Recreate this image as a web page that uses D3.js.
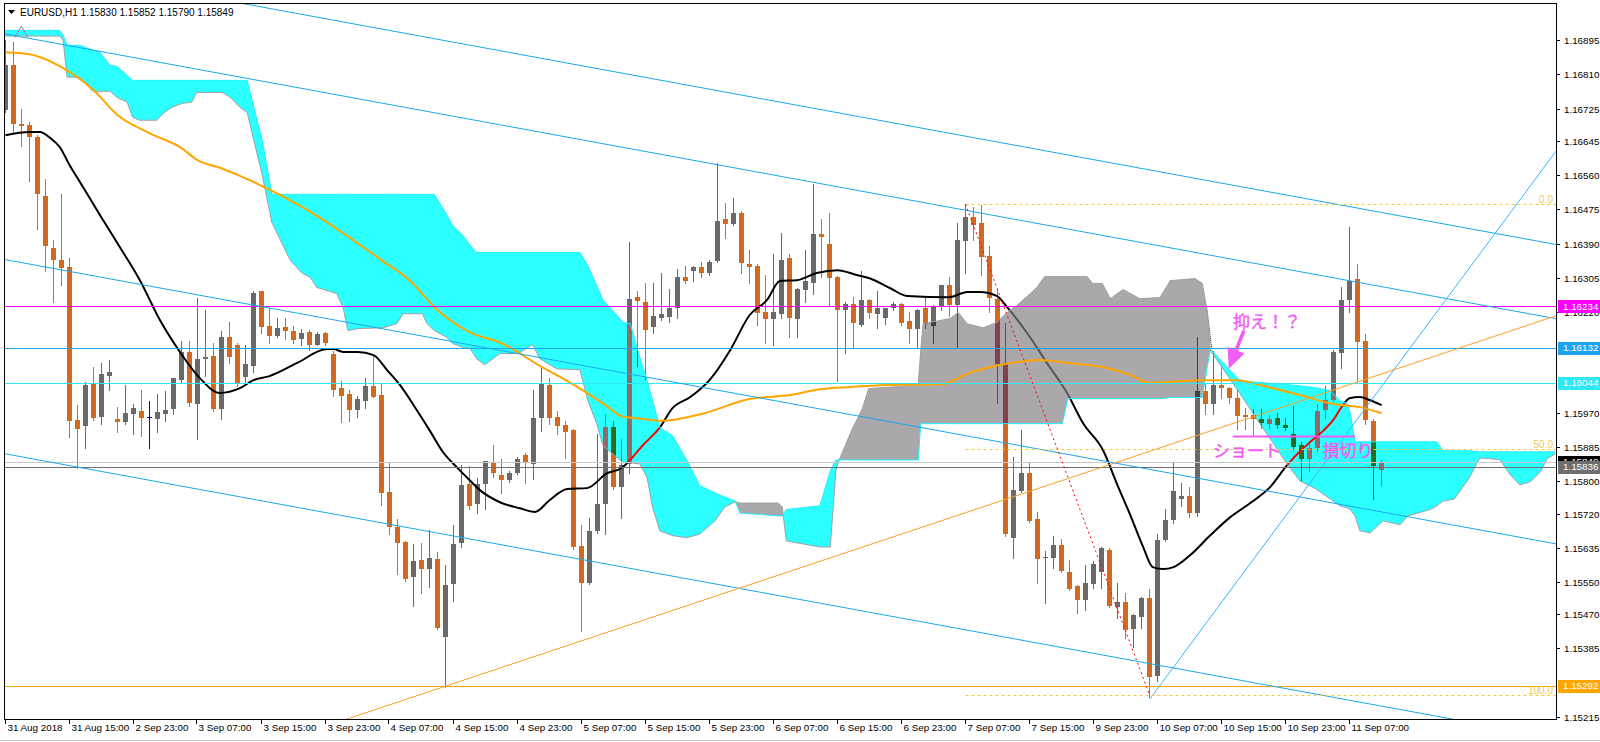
<!DOCTYPE html>
<html><head><meta charset="utf-8">
<script src="https://cdn.jsdelivr.net/npm/d3@7"></script>
<style>body{margin:0;background:#fff}svg{display:block}</style>
</head><body>
<svg id="c" width="1600" height="742"></svg>
<script>
// ---------------- DATA ----------------
const headerText = "EURUSD,H1  1.15830 1.15852 1.15790 1.15849";
const xLabels = ["31 Aug 2018","31 Aug 15:00","2 Sep 23:00","3 Sep 07:00","3 Sep 15:00","3 Sep 23:00","4 Sep 07:00","4 Sep 15:00","4 Sep 23:00","5 Sep 07:00","5 Sep 15:00","5 Sep 23:00","6 Sep 07:00","6 Sep 15:00","6 Sep 23:00","7 Sep 07:00","7 Sep 15:00","9 Sep 23:00","10 Sep 07:00","10 Sep 15:00","10 Sep 23:00","11 Sep 07:00"];
const xLabelBars = [0,8,16,24,32,40,48,56,64,72,80,88,96,104,112,120,128,136,144,152,160,168];
const priceTicks = [1.16895,1.16810,1.16725,1.16645,1.16560,1.16475,1.16390,1.16305,1.16220,1.15970,1.15885,1.15800,1.15720,1.15635,1.15550,1.15470,1.15385,1.15215];

const open = [
1.16721,1.16832,1.16686,1.16683,1.16654,1.16509,1.16378,1.16350,1.16331,1.15953,
1.15938,1.16042,1.15958,1.16062,1.15955,1.15948,1.15968,1.15975,1.15960,1.15955,
1.15968,1.15980,1.16052,1.16122,1.15993,1.16104,1.16112,1.15978,1.16157,1.16139,
1.16060,1.16087,1.16271,1.16186,1.16162,1.16184,1.16174,1.16154,1.16171,1.16139,
1.16169,1.16117,1.16032,1.16017,1.15978,1.16000,1.16037,1.16015,1.15774,1.15687,
1.15650,1.15563,1.15605,1.15583,1.15607,1.15414,1.15545,1.15647,1.15794,1.15744,
1.15794,1.15848,1.15816,1.15804,1.15821,1.15866,1.15843,1.15958,1.16040,1.15960,
1.15940,1.15928,1.15640,1.15548,1.15677,1.15744,1.15935,1.15786,1.15843,1.16258,
1.16246,1.16181,1.16204,1.16209,1.16231,1.16308,1.16321,1.16331,1.16318,1.16348,
1.16450,1.16437,1.16465,1.16340,1.16335,1.16221,1.16204,1.16216,1.16353,1.16204,
1.16276,1.16291,1.16413,1.16390,1.16308,1.16226,1.16241,1.16189,1.16251,1.16216,
1.16204,1.16231,1.16241,1.16199,1.16179,1.16229,1.16186,1.16231,1.16288,1.16236,
1.16395,1.16455,1.16440,1.16358,1.16253,1.16094,1.15660,1.15776,1.15821,1.15707,
1.15610,1.15610,1.15642,1.15575,1.15540,1.15505,1.15545,1.15575,1.15630,1.15488,
1.15501,1.15433,1.15463,1.15511,1.15317,1.15655,1.15704,1.15756,1.15764,1.15722,
1.16025,1.15993,1.16040,1.16032,1.16007,1.15965,1.15965,1.15955,1.15943,1.15958,
1.15940,1.15918,1.15891,1.15856,1.15883,1.15978,1.16002,1.16119,1.16251,1.16301,
1.16147,1.15950,1.15830];
const high = [
1.16895,1.16890,1.16723,1.16691,1.16659,1.16549,1.16398,1.16512,1.16355,1.15990,
1.16047,1.16084,1.16094,1.16102,1.15985,1.16040,1.15993,1.16027,1.15998,1.16017,
1.16025,1.16057,1.16149,1.16149,1.16256,1.16224,1.16142,1.16174,1.16196,1.16142,
1.16139,1.16273,1.16273,1.16229,1.16206,1.16206,1.16186,1.16179,1.16176,1.16171,
1.16171,1.16124,1.16050,1.16027,1.16012,1.16057,1.16112,1.16042,1.15846,1.15707,
1.15652,1.15645,1.15647,1.15679,1.15625,1.15592,1.15692,1.15841,1.15838,1.15809,
1.15851,1.15891,1.15856,1.15826,1.15861,1.15871,1.16027,1.16080,1.16057,1.15975,
1.15950,1.15930,1.15692,1.15709,1.15918,1.15968,1.15950,1.15906,1.16395,1.16271,
1.16291,1.16293,1.16316,1.16276,1.16326,1.16335,1.16335,1.16343,1.16348,1.16589,
1.16490,1.16504,1.16470,1.16373,1.16340,1.16311,1.16363,1.16417,1.16365,1.16280,
1.16375,1.16539,1.16450,1.16465,1.16310,1.16244,1.16258,1.16323,1.16253,1.16273,
1.16231,1.16244,1.16243,1.16219,1.16228,1.16258,1.16238,1.16288,1.16306,1.16440,
1.16488,1.16480,1.16486,1.16383,1.16278,1.16194,1.15861,1.15928,1.15848,1.15724,
1.15627,1.15665,1.15657,1.15605,1.15543,1.15592,1.15602,1.15638,1.15635,1.15548,
1.15523,1.15470,1.15513,1.15533,1.15669,1.15732,1.15846,1.15796,1.15786,1.16157,
1.16042,1.16124,1.16087,1.16035,1.16030,1.15983,1.15980,1.15980,1.15965,1.15970,
1.15958,1.15988,1.15898,1.15893,1.15993,1.16037,1.16125,1.16283,1.16432,1.16338,
1.16166,1.15955,1.15852];
const low = [
1.16716,1.16661,1.16631,1.16544,1.16425,1.16321,1.16244,1.16288,1.15911,1.15834,
1.15883,1.15953,1.15943,1.16027,1.15923,1.15943,1.15918,1.15913,1.15883,1.15923,
1.15950,1.15968,1.16045,1.15988,1.15906,1.16062,1.15975,1.15955,1.16094,1.16037,
1.16042,1.16072,1.16169,1.16142,1.16157,1.16154,1.16142,1.16139,1.16127,1.16137,
1.16137,1.16012,1.15948,1.15950,1.15960,1.15983,1.16008,1.15742,1.15669,1.15570,
1.15553,1.15491,1.15523,1.15538,1.15433,1.15289,1.15503,1.15637,1.15732,1.15722,
1.15732,1.15811,1.15771,1.15799,1.15819,1.15796,1.15806,1.15925,1.15943,1.15918,
1.15858,1.15632,1.15428,1.15545,1.15672,1.15669,1.15781,1.15709,1.15821,1.16087,
1.16055,1.16169,1.16201,1.16196,1.16206,1.16291,1.16296,1.16308,1.16311,1.16345,
1.16403,1.16435,1.16316,1.16293,1.16189,1.16142,1.16137,1.16206,1.16157,1.16157,
1.16244,1.16266,1.16306,1.16236,1.16050,1.16119,1.16134,1.16186,1.16206,1.16181,
1.16191,1.16226,1.16189,1.16142,1.16134,1.16181,1.16144,1.16226,1.16211,1.16134,
1.16318,1.16398,1.16313,1.16219,1.15995,1.15665,1.15610,1.15774,1.15700,1.15548,
1.15498,1.15585,1.15576,1.15530,1.15473,1.15481,1.15535,1.15535,1.15488,1.15461,
1.15411,1.15389,1.15436,1.15265,1.15304,1.15653,1.15697,1.15739,1.15712,1.15714,
1.15968,1.15968,1.16007,1.15995,1.15930,1.15930,1.15916,1.15933,1.15933,1.15933,
1.15928,1.15881,1.15801,1.15826,1.15876,1.15958,1.16000,1.16080,1.16219,1.16050,
1.15943,1.15756,1.15790];
const close = [
1.16832,1.16686,1.16681,1.16654,1.16512,1.16385,1.16348,1.16331,1.15948,1.15930,
1.16040,1.15958,1.16065,1.16072,1.15948,1.15970,1.15983,1.15958,1.15960,1.15973,
1.15978,1.16057,1.16122,1.15995,1.16104,1.16109,1.15980,1.16157,1.16107,1.16045,
1.16092,1.16268,1.16181,1.16162,1.16181,1.16174,1.16152,1.16169,1.16139,1.16166,
1.16144,1.16027,1.16012,1.15978,1.16005,1.16037,1.16010,1.15771,1.15687,1.15647,
1.15558,1.15602,1.15583,1.15610,1.15436,1.15543,1.15645,1.15791,1.15739,1.15794,
1.15851,1.15821,1.15804,1.15821,1.15856,1.15846,1.15958,1.16042,1.15958,1.15938,
1.15923,1.15637,1.15548,1.15677,1.15744,1.15935,1.15786,1.15841,1.16253,1.16248,
1.16176,1.16209,1.16214,1.16231,1.16308,1.16298,1.16331,1.16316,1.16345,1.16447,
1.16437,1.16465,1.16340,1.16333,1.16219,1.16204,1.16221,1.16350,1.16204,1.16278,
1.16298,1.16413,1.16405,1.16306,1.16226,1.16241,1.16194,1.16251,1.16219,1.16231,
1.16229,1.16241,1.16194,1.16179,1.16226,1.16189,1.16236,1.16286,1.16239,1.16398,
1.16455,1.16435,1.16355,1.16253,1.16092,1.15669,1.15779,1.15821,1.15702,1.15607,
1.15612,1.15642,1.15578,1.15533,1.15505,1.15548,1.15595,1.15635,1.15491,1.15501,
1.15431,1.15468,1.15511,1.15314,1.15655,1.15704,1.15776,1.15764,1.15722,1.16025,
1.15993,1.16040,1.16032,1.16007,1.15963,1.15960,1.15955,1.15945,1.15955,1.15940,
1.15933,1.15886,1.15856,1.15883,1.15975,1.16002,1.16122,1.16251,1.16298,1.16144,
1.15950,1.15838,1.15849];

// moving averages: [bar, price]
const maBlack = [[0,1.16659],[3,1.16667],[4.3,1.16667],[5.6,1.16652],[6.8,1.16629],[8,1.16585],[9.3,1.16543],[11.8,1.16461],[14.3,1.16381],[16.8,1.16299],[19.3,1.16200],[21.8,1.16121],[24.3,1.16056],[26.8,1.16019],[29.3,1.16031],[31,1.16051],[33,1.16061],[36.4,1.16093],[40.2,1.16128],[41,1.16128],[42.2,1.16121],[44,1.16121],[46,1.16113],[47.7,1.16076],[49.3,1.16039],[51.4,1.15977],[53,1.15927],[54.7,1.15872],[56.4,1.15835],[58,1.15803],[59.3,1.15778],[61.8,1.15748],[64.3,1.15733],[66.2,1.15724],[68,1.15753],[70.2,1.15781],[72.7,1.15783],[75.2,1.15820],[77,1.15833],[77.7,1.15845],[79.7,1.15890],[81.8,1.15934],[83.4,1.15982],[85.6,1.16009],[88,1.16051],[90.6,1.16126],[93,1.16212],[95.2,1.16250],[96.8,1.16297],[98.9,1.16299],[101.4,1.16317],[104,1.16324],[106.4,1.16312],[108,1.16304],[110.6,1.16279],[112.7,1.16260],[118,1.16257],[120.2,1.16270],[121.8,1.16270],[123.9,1.16260],[125.2,1.16232],[127.7,1.16168],[130.2,1.16093],[132.7,1.16019],[134.7,1.15944],[137.2,1.15877],[138.9,1.15795],[140.6,1.15716],[142.2,1.15637],[143.4,1.15587],[144.7,1.15582],[146,1.15587],[148.1,1.15617],[150.6,1.15666],[153.1,1.15711],[155.6,1.15746],[158.1,1.15786],[160.2,1.15840],[161.6,1.15870],[163,1.15896],[164.7,1.15925],[166,1.15953],[167,1.15984],[168,1.16006],[169.3,1.16009],[170.6,1.16001],[172,1.15989]];
const maOrange = [[0,1.16865],[3,1.16860],[7,1.16828],[11,1.16771],[14,1.16709],[18,1.16664],[22,1.16627],[24,1.16597],[27,1.16577],[29.3,1.16558],[37.5,1.16476],[47,1.16349],[50.5,1.16299],[54,1.16225],[58,1.16170],[62,1.16143],[67,1.16084],[70.5,1.16046],[75,1.15989],[77,1.15962],[79.5,1.15955],[82,1.15950],[87,1.15967],[93,1.16004],[98,1.16014],[102,1.16029],[105.5,1.16034],[110.5,1.16039],[117,1.16041],[120.5,1.16069],[125.5,1.16093],[129.3,1.16101],[133,1.16093],[137.7,1.16081],[140.6,1.16064],[143,1.16044],[149.7,1.16051],[154,1.16051],[156.8,1.16039],[161.8,1.16014],[166,1.15992],[169.3,1.15984],[172,1.15969]];
const dotMarks = [[[1.2,1.16902],[1.97,1.16929],[2.8,1.16902]],[[150.2,1.16224],[150.8,1.16124]]];

// Ichimoku cloud: bar, span A, span B
const cloudBar = [-0.2,6.8,7.2,7.7,9.3,10.9,11.8,13.1,13.9,15.2,15.9,16.8,18.9,19.7,20.8,22.1,23.3,23.9,27.1,28.1,29.3,30.2,32.1,33.3,35.6,37.1,38.1,38.9,40.6,41.4,42.2,42.8,44.1,47.2,48.9,49.7,52.1,52.7,53.6,55.2,55.9,57.2,58.1,58.9,59.9,61.8,64.1,65.9,66.8,68.9,71.8,72.8,73.9,74.7,75.9,77.2,78.1,79.3,80.2,80.9,81.8,83.4,85.2,86.8,88.7,89.9,91.2,91.8,96.6,97.1,97.6,101.8,103.1,103.8,104.2,105.8,107.1,107.9,111.6,114.1,114.4,114.7,118.1,119.1,120.2,122.2,123.9,125.2,126.4,128.1,128.9,129.9,132.1,132.8,135.2,135.9,137.1,138.1,139.7,141.8,144.3,145.6,148.7,149.6,150.2,150.6,150.8,154.3,156.8,160.2,161.8,163.8,165.6,166.8,167.7,168.1,168.7,169.3,170.6,172.2,174.3,175.3,178.1,178.9,179.7,181.1,182.9,184.3,185.6,186.8,188.1,189.3,190.6,191.9,192.7,193.7];
const spanA = [1.16919,1.16919,1.16907,1.16882,1.16882,1.16870,1.16865,1.16832,1.16830,1.16808,1.16795,1.16795,1.16795,1.16795,1.16795,1.16795,1.16795,1.16795,1.16795,1.16795,1.16795,1.16795,1.16646,1.16512,1.16512,1.16512,1.16512,1.16512,1.16512,1.16512,1.16512,1.16512,1.16512,1.16512,1.16512,1.16512,1.16512,1.16512,1.16512,1.16460,1.16435,1.16410,1.16385,1.16368,1.16368,1.16368,1.16368,1.16368,1.16368,1.16368,1.16368,1.16335,1.16286,1.16249,1.16224,1.16194,1.16191,1.16107,1.16050,1.16000,1.15933,1.15913,1.15851,1.15789,1.15771,1.15761,1.15751,1.15721,1.15714,1.15714,1.15730,1.15739,1.15826,1.15853,1.15853,1.15853,1.15853,1.15853,1.15853,1.15853,1.15943,1.15943,1.15943,1.15943,1.15943,1.15943,1.15943,1.15943,1.15943,1.15943,1.15943,1.15943,1.15943,1.16005,1.16005,1.16005,1.16005,1.16005,1.16005,1.16005,1.16005,1.16008,1.16008,1.16008,1.16082,1.16124,1.16124,1.16050,1.16045,1.16040,1.16037,1.16032,1.16025,1.16000,1.15993,1.15970,1.15898,1.15898,1.15898,1.15898,1.15898,1.15898,1.15898,1.15898,1.15876,1.15876,1.15876,1.15873,1.15873,1.15873,1.15873,1.15873,1.15873,1.15873,1.15873,1.15873];
const spanB = [1.16905,1.16905,1.16895,1.16803,1.16803,1.16768,1.16768,1.16768,1.16753,1.16741,1.16703,1.16696,1.16696,1.16713,1.16728,1.16738,1.16741,1.16765,1.16765,1.16753,1.16728,1.16716,1.16559,1.16442,1.16348,1.16316,1.16306,1.16281,1.16271,1.16266,1.16231,1.16174,1.16179,1.16181,1.16191,1.16216,1.16216,1.16191,1.16174,1.16157,1.16142,1.16132,1.16129,1.16104,1.16089,1.16117,1.16117,1.16139,1.16104,1.16079,1.16077,1.16000,1.15943,1.15888,1.15868,1.15846,1.15846,1.15843,1.15809,1.15734,1.15677,1.15665,1.15660,1.15669,1.15702,1.15736,1.15749,1.15746,1.15746,1.15736,1.15652,1.15637,1.15637,1.15826,1.15853,1.15928,1.15980,1.16030,1.16035,1.16042,1.16124,1.16191,1.16204,1.16219,1.16191,1.16181,1.16194,1.16219,1.16236,1.16266,1.16281,1.16308,1.16308,1.16308,1.16308,1.16291,1.16291,1.16253,1.16276,1.16253,1.16256,1.16298,1.16303,1.16291,1.16224,1.16124,1.16119,1.16018,1.15943,1.15843,1.15801,1.15781,1.15756,1.15739,1.15734,1.15730,1.15714,1.15677,1.15672,1.15702,1.15692,1.15714,1.15730,1.15739,1.15751,1.15756,1.15806,1.15858,1.15856,1.15853,1.15816,1.15791,1.15799,1.15824,1.15856,1.15868];

// horizontal price levels and their axis labels
const levelPrices = [1.16234, 1.16132, 1.16044, 1.15292];
const bidPrice = 1.15849, markPrice = 1.15836;
// trend lines: [[bar, price],[bar, price]]
const channelLines = [[[29.3,1.16987],[193.7,1.16388]],[[0,1.16910],[193.7,1.16204]],[[0,1.16350],[193.7,1.15645]],[[0,1.15868],[193.7,1.15163]]];
const risingLine = [[143.06,1.15260],[193.69,1.16616]];
const orangeTrend = [[42.7,1.15210],[193.7,1.16210]];
const fib = {startBar:120, p0:1.16488, p100:1.15270, endBar:143};
const fibLevels = [0, 50, 100];
const notes = {hold:"抑え！？", short:"ショート", stop:"損切り"};

// ---------------- STYLE / SCALES ----------------
const N = open.length;
const svg = d3.select("#c");
const L=4, R=1556, T=3, B=719;
const x = d3.scaleLinear().domain([-0.1875, 193.6875]).range([4, 1555]);
const y = d3.scaleLinear().domain([1.15210, 1.16987]).range([B, T]);
const FONT = "'Liberation Sans', Arial, sans-serif";
const CYAN = "#00FFFF", GRAY = "#A9A9A9";
const pal = {bull:"#696969", bear:"#D2691E", doji:"#0000FF", ma:"#000000"};
function xorHex(h, k){ const a=d3.rgb(h), c=d3.rgb(k);
  return d3.rgb(a.r ^ (255^c.r), a.g ^ (255^c.g), a.b ^ (255^c.b)).formatHex(); }
const palCyan = Object.fromEntries(Object.entries(pal).map(([k,v])=>[k,xorHex(v,CYAN)]));
const palGray = Object.fromEntries(Object.entries(pal).map(([k,v])=>[k,xorHex(v,GRAY)]));
const kind = i => close[i]>open[i] ? "bull" : close[i]<open[i] ? "bear" : "doji";

svg.append("rect").attr("width",1600).attr("height",742).attr("fill","#fff");
const defs = svg.append("defs");
defs.append("clipPath").attr("id","plotClip").append("rect").attr("x",L).attr("y",T).attr("width",R-L).attr("height",B-T);
const root = svg.append("g").attr("clip-path","url(#plotClip)");

// cloud polygons
const cp = cloudBar.map((b,k)=>({x:x(b), a:y(spanA[k]), b:y(spanB[k])}));
let cyanD = "", grayD = "";
const quad = (p,q)=>`M${p.x},${p.a}L${q.x},${q.a}L${q.x},${q.b}L${p.x},${p.b}Z`;
for (let k=0;k<cp.length-1;k++){
  const p=cp[k], q=cp[k+1], d0=p.b-p.a, d1=q.b-q.a;
  if (d0>=0 && d1>=0) cyanD += quad(p,q);
  else if (d0<=0 && d1<=0) grayD += quad(p,q);
  else {
    const t = d0/(d0-d1), xm = p.x+t*(q.x-p.x), ym = p.a+t*(q.a-p.a);
    const t1 = `M${p.x},${p.a}L${xm},${ym}L${p.x},${p.b}Z`;
    const t2 = `M${xm},${ym}L${q.x},${q.a}L${q.x},${q.b}Z`;
    if (d0>0){ cyanD+=t1; grayD+=t2; } else { grayD+=t1; cyanD+=t2; }
  }
}
defs.append("clipPath").attr("id","clipCyan").append("path").attr("d",cyanD);
defs.append("clipPath").attr("id","clipGray").append("path").attr("d",grayD);

const maLine = d3.line().x(d=>x(d[0])).y(d=>y(d[1])).curve(d3.curveMonotoneX);
function drawPriceLayer(g, P){
  const idx = d3.range(N);
  const cg = g.append("g").attr("shape-rendering","crispEdges");
  cg.selectAll("line").data(idx).join("line")
    .attr("x1",i=>x(i)).attr("x2",i=>x(i))
    .attr("y1",i=>Math.round(y(high[i]))).attr("y2",i=>Math.round(y(low[i]))+1)
    .attr("stroke",i=>P[kind(i)]).attr("stroke-width",1);
  cg.selectAll("rect").data(idx).join("rect")
    .attr("x",i=>x(i)-2.5).attr("width",5)
    .attr("y",i=>Math.round(y(Math.max(open[i],close[i]))))
    .attr("height",i=>Math.max(1,Math.round(Math.abs(y(open[i])-y(close[i])))))
    .attr("fill",i=>P[kind(i)]);
  g.append("path").attr("d",maLine(maBlack)).attr("fill","none").attr("stroke",P.ma).attr("stroke-width",2);
  dotMarks.forEach(m=>g.append("path").attr("d",d3.line().x(d=>x(d[0])).y(d=>y(d[1]))(m))
    .attr("fill","none").attr("stroke",P.ma).attr("stroke-width",1).attr("stroke-dasharray","1,1"));
}
drawPriceLayer(root.append("g"), pal);
root.append("path").attr("d",cyanD).attr("fill","#2CFFFF");
root.append("path").attr("d",grayD).attr("fill","#AAA8AA");
drawPriceLayer(root.append("g").attr("clip-path","url(#clipCyan)"), palCyan);
drawPriceLayer(root.append("g").attr("clip-path","url(#clipGray)"), palGray);
const spanLine = arr => d3.line().x((d,k)=>x(cloudBar[k])).y(d=>y(d))(arr);
root.append("path").attr("d",spanLine(spanB)).attr("fill","none").attr("stroke","#A0A0A0").attr("stroke-width",1);
root.append("path").attr("d",spanLine(spanA)).attr("fill","none").attr("stroke","#22F0FF").attr("stroke-width",1);

// orange MA
root.append("path").attr("d",maLine(maOrange)).attr("fill","none").attr("stroke","#FFA500").attr("stroke-width",2);

// horizontal levels
const levelColors = ["#FF00FF","#1DA4EE","#2EE8F4","#FFA500"];
levelPrices.forEach((p,k)=>root.append("line").attr("x1",L).attr("x2",R).attr("y1",Math.round(y(p))+0.5).attr("y2",Math.round(y(p))+0.5).attr("stroke",levelColors[k]));
root.append("line").attr("x1",L).attr("x2",R).attr("y1",Math.round(y(bidPrice))+0.5).attr("y2",Math.round(y(bidPrice))+0.5).attr("stroke","#C8C8C8");
root.append("line").attr("x1",L).attr("x2",R).attr("y1",Math.round(y(markPrice))+0.5).attr("y2",Math.round(y(markPrice))+0.5).attr("stroke","#707070");

// trend lines
function extLine(a, b, b0, b1){
  const s=(b[1]-a[1])/(b[0]-a[0]);
  return [[b0, a[1]+s*(b0-a[0])],[b1, a[1]+s*(b1-a[0])]];
}
const straight = d3.line().x(d=>x(d[0])).y(d=>y(d[1]));
channelLines.forEach(c=>root.append("path").attr("d",straight(extLine(c[0],c[1],-5,200))).attr("stroke","#1BA6F2").attr("stroke-width",1).attr("fill","none"));
root.append("path").attr("d",straight(extLine(risingLine[0],risingLine[1],risingLine[0][0],200))).attr("stroke","#3AB4F8").attr("stroke-width",1).attr("fill","none");
root.append("path").attr("d",straight(extLine(orangeTrend[0],orangeTrend[1],30,200))).attr("stroke","#FFA020").attr("stroke-width",1).attr("fill","none");

// fibonacci
fibLevels.forEach(lv=>{
  const p = fib.p0 + (fib.p100-fib.p0)*lv/100, yy=Math.round(y(p))+0.5;
  root.append("line").attr("x1",x(fib.startBar)).attr("x2",R).attr("y1",yy).attr("y2",yy)
    .attr("stroke","#F7C843").attr("stroke-dasharray","3,3");
  root.append("text").attr("x",R-3).attr("y",yy-2).attr("text-anchor","end").attr("font-family",FONT)
    .attr("font-size","10px").attr("fill","#F2C84B").text(lv.toFixed(1));
});
root.append("line").attr("x1",x(fib.startBar)).attr("y1",y(fib.p0)).attr("x2",x(fib.endBar)).attr("y2",y(fib.p100))
  .attr("stroke","#FF0000").attr("stroke-dasharray","2,3");

// annotations
const NOTE = "#F25CF2";
const noteText = (bx, p, t) => root.append("text").attr("x",x(bx)).attr("y",y(p)).attr("text-anchor","middle")
  .attr("font-family","'Noto Sans CJK JP',sans-serif").attr("font-size","17px").attr("fill",NOTE)
  .attr("stroke",NOTE).attr("stroke-width",0.4).text(t);
noteText(157.7, 1.16181, notes.hold);
(function(){
  const tx=x(154.8), ty=y(1.16174), px=x(152.9), py=y(1.16079);
  const dx=px-tx, dy=py-ty, len=Math.hypot(dx,dy), ux=dx/len, uy=dy/len;
  const bx=px-ux*20, by=py-uy*20, nx=-uy, ny=ux;
  root.append("line").attr("x1",tx).attr("y1",ty).attr("x2",bx).attr("y2",by).attr("stroke",NOTE).attr("stroke-width",3.5);
  root.append("path").attr("d",`M${px},${py}L${bx+nx*9},${by+ny*9}L${bx-nx*9},${by-ny*9}Z`).attr("fill",NOTE);
})();
root.append("line").attr("x1",x(153.4)).attr("x2",x(168.7)).attr("y1",y(1.15911)).attr("y2",y(1.15911)).attr("stroke",NOTE).attr("stroke-width",2);
noteText(155.2, 1.15861, notes.short);
noteText(167.8, 1.15861, notes.stop);

// frame
svg.append("rect").attr("x",L+0.5).attr("y",T+0.5).attr("width",R-L).attr("height",B-T).attr("fill","none").attr("stroke","#000");
svg.append("line").attr("x1",0).attr("x2",1600).attr("y1",740.5).attr("y2",740.5).attr("stroke","#C8C8C8");

// header
svg.append("path").attr("d","M8,10L15,10L11.5,14Z").attr("fill","#000");
svg.append("text").attr("x",20).attr("y",16).attr("font-family",FONT).attr("font-size","10px").attr("fill","#000").text(headerText);

// price axis
const ax = svg.append("g");
priceTicks.forEach(p=>{
  const yy=Math.round(y(p))+0.5;
  ax.append("line").attr("x1",R).attr("x2",R+4).attr("y1",yy).attr("y2",yy).attr("stroke","#000");
  ax.append("text").attr("x",R+8).attr("y",yy).attr("dy","0.35em").attr("font-family",FONT).attr("font-size","9.8px").attr("fill","#000").text(p.toFixed(5));
});
const tagPrices = [bidPrice, markPrice, ...levelPrices];
const tagColors = ["#000000","#6E6E6E","#FF00FF","#1DA4EE","#2EE8F4","#FFA500"];
tagPrices.forEach((p,k)=>{
  const yy=y(p);
  ax.append("rect").attr("x",R+2).attr("y",Math.round(yy)-6).attr("width",44).attr("height",13).attr("fill",tagColors[k]);
  ax.append("text").attr("x",R+7).attr("y",yy).attr("dy","0.35em").attr("font-family",FONT).attr("font-size","9.8px").attr("fill","#fff").text(p.toFixed(5));
});

// time axis
xLabelBars.forEach((b,k)=>{
  const xx=Math.round(x(b))-0.5;
  ax.append("line").attr("x1",xx).attr("x2",xx).attr("y1",B).attr("y2",B+5).attr("stroke","#000");
  ax.append("text").attr("x",xx+2).attr("y",B+12).attr("font-family",FONT).attr("font-size","9.8px").attr("fill","#000").text(xLabels[k]);
});
</script>
</body></html>
